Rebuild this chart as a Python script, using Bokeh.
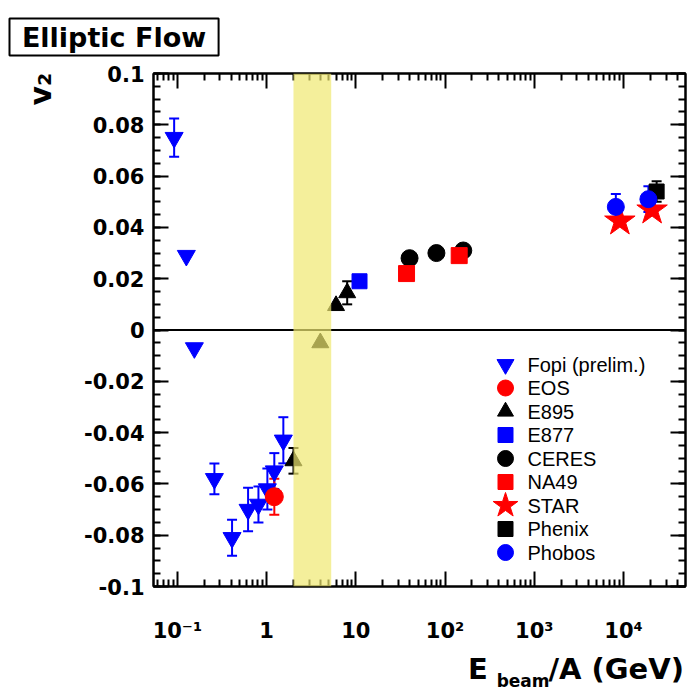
import numpy as np
from bokeh.plotting import figure
from bokeh.models import (FixedTicker, LinearAxis, LogAxis, Span, BoxAnnotation, Whisker,
                          TeeHead, ColumnDataSource, Label)
from bokeh.embed import file_html
from bokeh.resources import INLINE

# ---------------- data ----------------
fopi_x = [0.092, 0.126, 0.155, 0.26, 0.41, 0.62, 0.81, 1.02, 1.22, 1.54]
fopi_y = [0.075, 0.029, -0.007, -0.058, -0.081, -0.070, -0.068, -0.062, -0.055, -0.043]
fopi_e = [0.0075, 0.0, 0.0, 0.006, 0.007, 0.0085, 0.007, 0.008, 0.007, 0.009]

eos_x = [1.22]
eos_y = [-0.065]
eos_e = [0.007]

e895_x = [2.0, 4.0, 6.0, 8.0]
e895_y = [-0.051, -0.005, 0.0095, 0.0145]
e895_e = [0.005, 0.0, 0.0, 0.0045]

e877_x = [11.0]
e877_y = [0.019]

ceres_x = [40.0, 80.0, 160.0]
ceres_y = [0.028, 0.030, 0.031]

na49_x = [37.0, 144.0]
na49_y = [0.022, 0.029]

star_x = [9100.0, 20900.0]
star_y = [0.0425, 0.0468]

phenix_x = [23500.0]
phenix_y = [0.054]
phenix_e = [0.004]

phobos_x = [8200.0, 19000.0]
phobos_y = [0.048, 0.051]
phobos_e = [0.005, 0.005]

band_range = [2.0, 5.3]

legend_names = ["Fopi (prelim.)", "EOS", "E895", "E877", "CERES", "NA49", "STAR", "Phenix", "Phobos"]

xticks = [0.1, 1, 10, 100, 1000, 10000]
xlabels = ["10\u207b\u00b9", "1", "10", "10\u00b2", "10\u00b3", "10\u2074"]
yticks = [-0.1, -0.08, -0.06, -0.04, -0.02, 0, 0.02, 0.04, 0.06, 0.08, 0.1]
ylabels = ["-0.1", "-0.08", "-0.06", "-0.04", "-0.02", "0", "0.02", "0.04", "0.06", "0.08", "0.1"]

title_text = "Elliptic Flow"
ylabel_text = "v\u2082"
xlabel_main, xlabel_sub, xlabel_rest = "E", "beam", "/A (GeV)"

# ---------------- layout ----------------
W, H = 688, 693
FL, FR, FT, FB = 153, 685, 73, 586      # frame edges (page px)
X_RANGE = (0.054, 4.95e4)
Y_RANGE = (-0.1, 0.1)

BOLD = "DejaVu Sans"
BLUE, RED, BLACK = "#0000FF", "#FF0000", "#000000"
NB = "\u00a0"

p = figure(width=W, height=H, x_axis_type="log", x_range=X_RANGE, y_range=Y_RANGE,
           output_backend="svg", toolbar_location=None, title=NB + title_text + NB,
           min_border_left=FL, min_border_right=W - FR,
           min_border_top=FT, min_border_bottom=H - FB)
p.xgrid.visible = False
p.ygrid.visible = False
p.outline_line_color = "black"
p.outline_line_width = 2
p.background_fill_color = "white"
p.border_fill_color = "white"

# title box (top-left)
t = p.title
t.align = "left"
t.offset = -144
t.vertical_align = "top"
t.standoff = 32
t.text_font = BOLD
t.text_font_style = "bold"
t.text_font_size = "27px"
t.text_color = "black"
t.background_fill_color = "white"
t.border_line_color = "black"
t.border_line_width = 2
t.padding = 3


def at(px, py):
    """page pixel -> data coordinates (placement of legend entries only)"""
    lx0, lx1 = np.log10(X_RANGE)
    x = 10 ** (lx0 + (px - FL) / (FR - FL) * (lx1 - lx0))
    y = Y_RANGE[0] + (FB - py) / (FB - FT) * (Y_RANGE[1] - Y_RANGE[0])
    return float(x), float(y)


xminor = [k * 10.0 ** n for n in range(-2, 5) for k in range(2, 10)]
yminor = [round(-0.1 + 0.005 * i, 4) for i in range(41)]


def style_axis(ax, labels=True):
    ax.axis_line_width = 2
    ax.major_tick_in = 15
    ax.major_tick_out = 0
    ax.minor_tick_in = 7
    ax.minor_tick_out = 0
    ax.major_tick_line_width = 2
    ax.minor_tick_line_width = 2
    if labels:
        ax.major_label_text_font = BOLD
        ax.major_label_text_font_style = "bold"
        ax.major_label_text_font_size = "21px"
        ax.major_label_text_color = "black"
    else:
        ax.major_label_text_font_size = "1px"
        ax.major_label_text_alpha = 0
        ax.major_label_standoff = 0


def style_label(ax, size):
    ax.axis_label_text_font = BOLD
    ax.axis_label_text_font_style = "bold"
    ax.axis_label_text_font_size = size
    ax.axis_label_text_color = "black"


bx = p.xaxis[0]
HAS_ALIGN = "axis_label_align" in bx.properties()

bx.ticker = FixedTicker(ticks=xticks, minor_ticks=xminor)
bx.major_label_overrides = dict(zip(xticks, xlabels))
style_axis(bx)
bx.major_label_standoff = 32

ly = p.yaxis[0]
ly.ticker = FixedTicker(ticks=yticks, minor_ticks=yminor)
ly.major_label_overrides = dict(zip(yticks, ylabels))
style_axis(ly)
ly.major_label_standoff = 9

# y-axis title "v2" just below the top end of the axis
style_label(ly, "30px")
ly.axis_label_standoff = 23
if HAS_ALIGN:
    ly.axis_label = ylabel_text + NB * 3
    ly.axis_label_align = "end"
else:
    ly.axis_label = NB * 47 + ylabel_text

# x-axis title: subscript part on the main axis, main part on a blank axis below,
# pulled up with a negative standoff so that both share one line.
# Both are centred on the axis; leading no-break spaces push them to the right end.
style_label(bx, "17px")
bx.axis_label_standoff = 25
bx.axis_label = NB * 35 + xlabel_sub
bx2 = LogAxis(ticker=FixedTicker(ticks=xticks, minor_ticks=[]))
bx2.axis_line_alpha = 0
bx2.major_tick_in = 0
bx2.major_tick_out = 0
bx2.minor_tick_in = 0
bx2.minor_tick_out = 0
bx2.major_label_text_font_size = "1px"
bx2.major_label_text_alpha = 0
bx2.major_label_standoff = 0
style_label(bx2, "29px")
bx2.axis_label_standoff = -42
bx2.axis_label = NB * 31 + xlabel_main + NB * 6 + xlabel_rest
p.add_layout(bx2, "below")

top_ax = LogAxis(ticker=FixedTicker(ticks=xticks, minor_ticks=xminor))
style_axis(top_ax, labels=False)
p.add_layout(top_ax, "above")
right_ax = LinearAxis(ticker=FixedTicker(ticks=yticks, minor_ticks=yminor))
style_axis(right_ax, labels=False)
p.add_layout(right_ax, "right")

# zero line
p.add_layout(Span(location=0, dimension="width", line_color="black", line_width=2))

# ---------------- series ----------------
series = [
    (fopi_x, fopi_y, "inverted_triangle", 18, BLUE),
    (eos_x, eos_y, "circle", 18, RED),
    (e895_x, e895_y, "triangle", 17, BLACK),
    (e877_x, e877_y, "square", 15, BLUE),
    (ceres_x, ceres_y, "circle", 17, BLACK),
    (na49_x, na49_y, "square", 16, RED),
    (star_x, star_y, "star", 32, RED),
    (phenix_x, phenix_y, "square", 15, BLACK),
    (phobos_x, phobos_y, "circle", 17, BLUE),
]
for xs, ys, mk, sz, col in series:
    p.scatter(xs, ys, marker=mk, size=sz, fill_color=col, line_color=col)

# shaded band (drawn over the zero line and markers)
p.add_layout(BoxAnnotation(left=band_range[0], right=band_range[1], fill_color="#F0E870",
                           fill_alpha=0.7, line_alpha=0))


def add_err(xs, ys, es, color):
    sel = [(x, y, e) for x, y, e in zip(xs, ys, es) if e > 0]
    src = ColumnDataSource(dict(base=[s[0] for s in sel],
                                lower=[s[1] - s[2] for s in sel],
                                upper=[s[1] + s[2] for s in sel]))
    p.add_layout(Whisker(source=src, base="base", lower="lower", upper="upper",
                         dimension="height", line_color=color, line_width=2,
                         upper_head=TeeHead(size=10, line_color=color, line_width=2),
                         lower_head=TeeHead(size=10, line_color=color, line_width=2)))


add_err(fopi_x, fopi_y, fopi_e, BLUE)
add_err(eos_x, eos_y, eos_e, RED)
add_err(e895_x, e895_y, e895_e, BLACK)
add_err(phenix_x, phenix_y, phenix_e, BLACK)
add_err(phobos_x, phobos_y, phobos_e, BLUE)

# ---------------- legend (drawn as a key inside the frame) ----------------
leg_sizes = [17, 16, 16, 15, 16, 15, 26, 15, 16]
lx_, ly_ = [], []
for i in range(len(legend_names)):
    gx, gy = at(505, 364 + 23.5 * i)
    lx_.append(gx)
    ly_.append(gy)
p.scatter(x="x", y="y", marker="marker", size="size", fill_color="color", line_color="color",
          source=ColumnDataSource(dict(x=lx_, y=ly_, marker=[s[2] for s in series],
                                       size=leg_sizes, color=[s[4] for s in series])))
for i, name in enumerate(legend_names):
    tx_, ty_ = at(527, 364 + 23.5 * i)
    p.add_layout(Label(x=tx_, y=ty_, text=name, text_align="left", text_baseline="middle",
                       text_font="Liberation Sans", text_font_size="20px", text_color="black"))

open("out.html", "w").write(file_html(p, INLINE))
